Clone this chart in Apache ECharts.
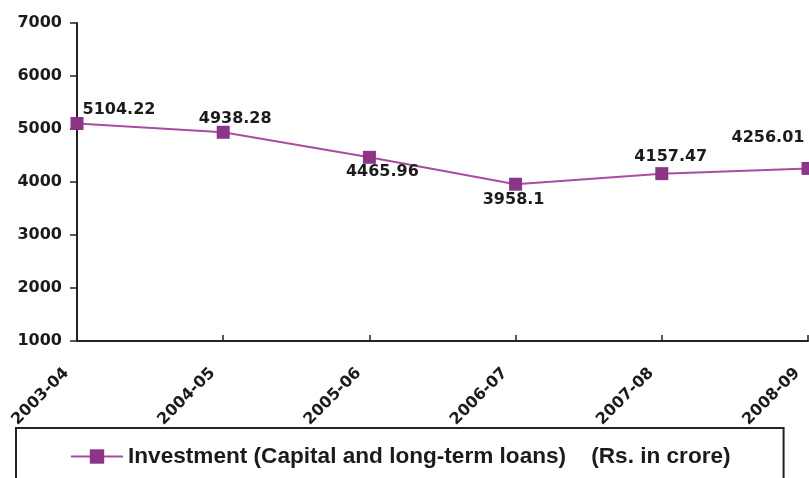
<!DOCTYPE html>
<html>
<head>
<meta charset="utf-8">
<script src="https://cdn.jsdelivr.net/npm/echarts@6/dist/echarts.min.js"></script>
<style>
  html, body { margin: 0; padding: 0; background: #fff; }
  #chart { width: 809px; height: 478px; }
</style>
</head>
<body>
<div id="chart"></div>
<script>
// Financial years on the category axis
const years = ['2003-04', '2004-05', '2005-06', '2006-07', '2007-08', '2008-09'];
// Investment (capital and long-term loans), Rs. in crore
const investment = [5104.22, 4938.28, 4465.96, 3958.1, 4157.47, 4256.01];
// Value-axis range and step
const yMin = 1000, yMax = 7000, yStep = 1000;

const seriesName = 'Investment (Capital and long-term loans)    (Rs. in crore)';

// Per-point label placement so the numbers sit clear of the line
const labelPlacement = [
  { position: 'top', offset: [42, 6] },
  { position: 'top', offset: [12, 6] },
  { position: 'bottom', offset: [13, -5] },
  { position: 'bottom', offset: [-2, -4] },
  { position: 'top', offset: [9, 3] },
  { position: 'top', offset: [-40, -11] }
];

const numFont = 'DejaVu Sans';
const ink = '#1b1b1b';

const chart = echarts.init(document.getElementById('chart'), null, { renderer: 'canvas' });

chart.setOption({
  animation: false,
  backgroundColor: '#ffffff',
  grid: {
    left: 77, right: 1, top: 23, bottom: 137,
    containLabel: false,
    outerBoundsMode: 'none'
  },
  xAxis: {
    type: 'category',
    data: years,
    boundaryGap: false,
    axisLine: { lineStyle: { color: '#222', width: 2 } },
    axisTick: { inside: true, length: 6, lineStyle: { color: '#222', width: 1.5 } },
    axisLabel: {
      rotate: 45,
      margin: 19,
      padding: [0, 15, 0, 0],
      interval: 0,
      color: ink,
      fontFamily: numFont,
      fontWeight: 'bold',
      fontSize: 16
    },
    splitLine: { show: false }
  },
  yAxis: {
    type: 'value',
    min: yMin,
    max: yMax,
    interval: yStep,
    axisLine: { show: true, lineStyle: { color: '#222', width: 2 } },
    axisTick: { show: true, length: 7, lineStyle: { color: '#222', width: 1.5 } },
    axisLabel: {
      margin: 15,
      color: ink,
      fontFamily: numFont,
      fontWeight: 'bold',
      fontSize: 16,
      formatter: v => String(v)
    },
    splitLine: { show: false }
  },
  legend: {
    left: 16,
    top: 428,
    padding: [17, 53, 40, 54],
    borderColor: '#222',
    borderWidth: 2,
    itemWidth: 52,
    itemHeight: 18,
    textStyle: {
      color: ink,
      fontFamily: 'Liberation Sans',
      fontWeight: 'bold',
      fontSize: 22.6
    },
    data: [seriesName]
  },
  series: [{
    name: seriesName,
    type: 'line',
    data: investment.map((v, i) => ({
      value: v,
      label: labelPlacement[i]
    })),
    symbol: 'rect',
    symbolSize: 13,
    lineStyle: { color: '#aa4ca2', width: 2 },
    itemStyle: { color: '#8c3488' },
    label: {
      show: true,
      color: ink,
      fontFamily: numFont,
      fontWeight: 'bold',
      fontSize: 16,
      formatter: p => String(p.value)
    }
  }]
});
</script>
</body>
</html>
